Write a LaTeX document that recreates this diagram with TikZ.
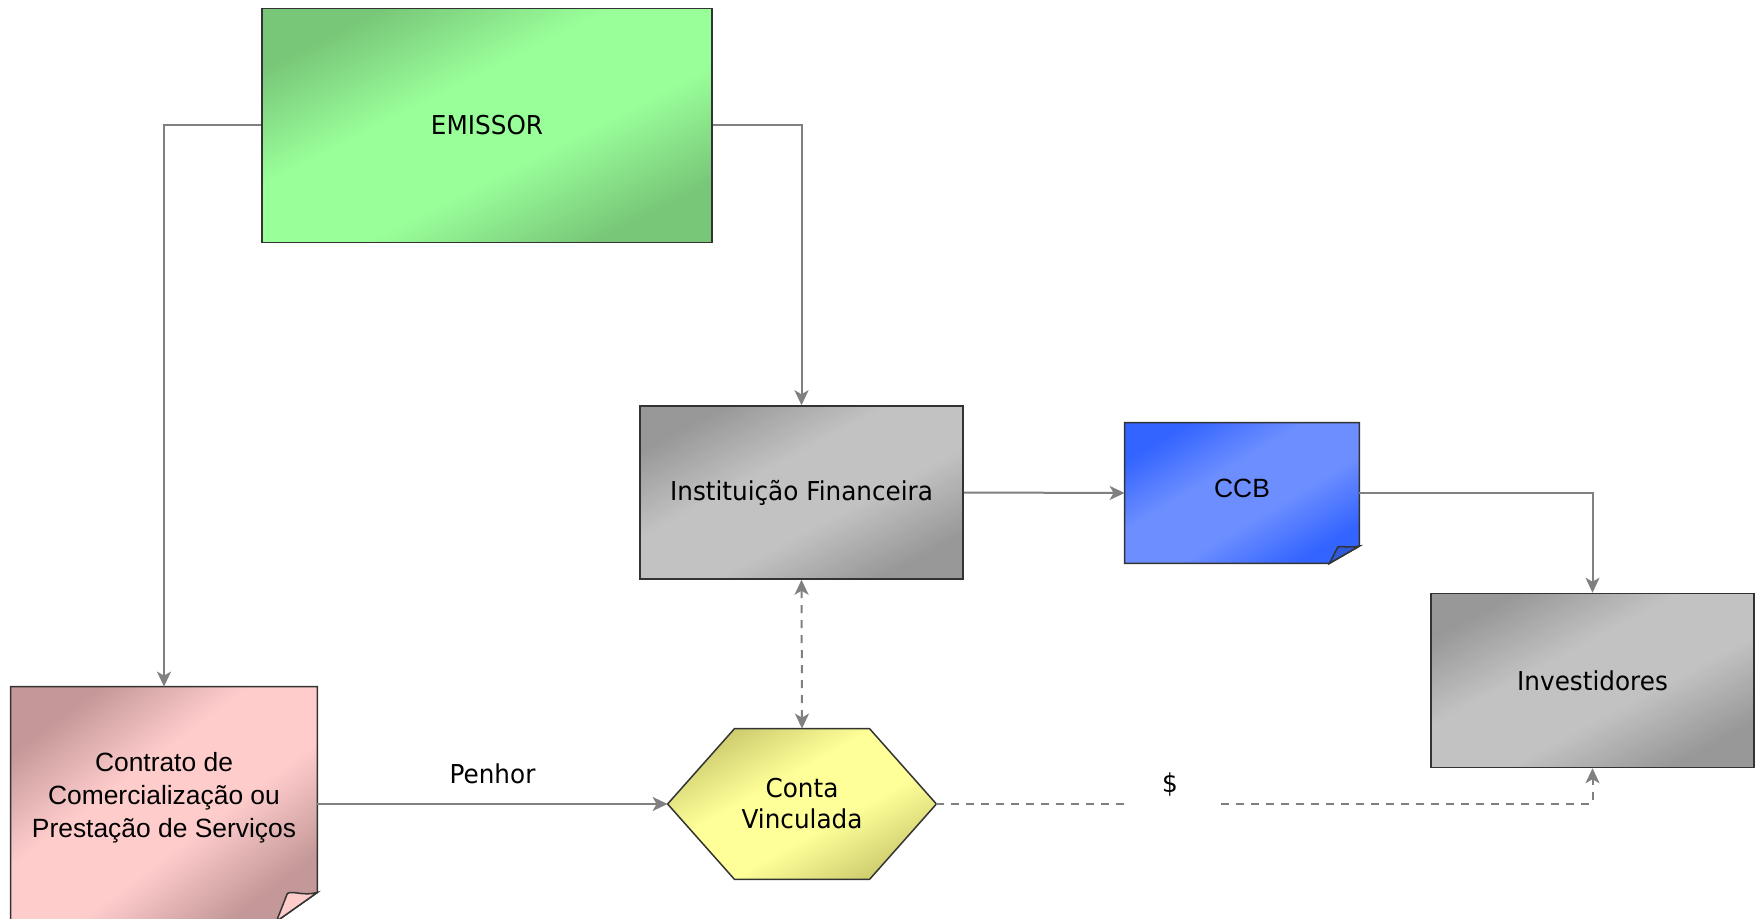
\documentclass[tikz,border=0pt]{standalone}
\usepackage{fontspec}
\setmainfont{Liberation Sans}
\newfontfamily\tahoma{DejaVu Sans}[FakeStretch=0.95]
\usetikzlibrary{arrows.meta}
\usetikzlibrary{backgrounds}

\definecolor{greendk}{RGB}{120,198,120}
\definecolor{greenlt}{RGB}{153,255,153}
\definecolor{graydk}{RGB}{152,152,152}
\definecolor{graylt}{RGB}{194,194,194}
\definecolor{bluedk}{RGB}{51,100,255}
\definecolor{bluelt}{RGB}{108,142,255}
\definecolor{bluecurl}{RGB}{46,90,215}
\definecolor{pinkdk}{RGB}{196,152,152}
\definecolor{pinklt}{RGB}{255,204,204}
\definecolor{yellowdk}{RGB}{206,206,112}
\definecolor{yellowlt}{RGB}{255,255,153}
\definecolor{linegray}{RGB}{128,128,128}
\colorlet{sheetdk}{graydk}
\colorlet{sheetlt}{graylt}

\pgfdeclareverticalshading[sheetdk,sheetlt]{sheet}{100bp}{color(0bp)=(sheetdk); color(25bp)=(sheetdk);
      color(42bp)=(sheetlt); color(58bp)=(sheetlt); color(75bp)=(sheetdk); color(100bp)=(sheetdk)}

\tikzset{
      txt/.style={font=\tahoma\fontsize{13}{15.5}\selectfont, align=center, text=black},
      arialtxt/.style={font=\fontsize{13.2}{16.5}\selectfont, align=center, text=black},
      outline/.style={draw=black!80, line width=0.75pt},
      box/.style={outline, inner sep=0pt},
      sheet/.style 2 args={/utils/exec={\colorlet{sheetdk}{#1}\colorlet{sheetlt}{#2}}, shade, shading=sheet},
      greenfill/.style={sheet={greendk}{greenlt}, shading angle=27},
      grayfill/.style={sheet={graydk}{graylt}, shading angle=28},
      bluefill/.style={sheet={bluedk}{bluelt}, shading angle=31},
      pinkfill/.style={sheet={pinkdk}{pinklt}, shading angle=37},
      yellowfill/.style={sheet={yellowdk}{yellowlt}, shading angle=29},
      flow/.style={draw=linegray, line width=1pt, ->},
      dflow/.style={flow, dash pattern=on 4pt off 3.5pt},
      gapmask/.style={fill=white, inner sep=0pt, minimum width=45pt, minimum height=5pt},
}

\begin{document}
\begin{tikzpicture}[x=0.5pt, y=-0.5pt, >={Stealth[length=7.5pt, width=7pt, inset=2pt]}]
        \useasboundingbox (0,0) rectangle (1760,919);

        % Boxes
        \node[box, greenfill, txt, minimum width=225pt, minimum height=117pt] (emissor) at (487,125.5) {EMISSOR};
        \node[box, grayfill, txt, minimum width=161.5pt, minimum height=86.5pt] (inst) at (801.5,492.5) {Instituição Financeira};
        \node[box, grayfill, txt, minimum width=161.5pt, minimum height=87pt] (invest) at (1592.5,680.5) {Investidores};
        \node[inner sep=0pt, minimum width=117pt, minimum height=70pt,
              label={[arialtxt, yshift=2.5pt]center:CCB}] (ccb) at (1242,493) {};
        \node[inner sep=0pt, minimum width=153pt, minimum height=117pt,
              label={[arialtxt, yshift=3pt]center:{Contrato de\\Comercialização ou\\Prestação de Serviços}}] (contrato) at (164,804) {};
        \node[txt, inner sep=0pt, minimum width=134pt, minimum height=75pt] (conta) at (802,804) {Conta\\Vinculada};

        % Folded sheets and hexagon
        \begin{scope}[on background layer]
        \shadedraw[outline, bluefill] (ccb.north west) -- (ccb.north east) -- ([yshift=8.65pt]ccb.south east)
              -- ([xshift=-15pt]ccb.south east) -- (ccb.south west) -- cycle;
        \filldraw[outline, fill=bluecurl] ([xshift=-15pt]ccb.south east) -- ([xshift=-10.8pt, yshift=8.2pt]ccb.south east)
              .. controls ([xshift=-9pt, yshift=9pt]ccb.south east) and ([xshift=-6pt, yshift=7.5pt]ccb.south east) .. ([yshift=8.65pt]ccb.south east) -- cycle;

        \shadedraw[outline, pinkfill] (contrato.north west) -- (contrato.north east) -- ([yshift=14.5pt]contrato.south east)
              -- ([xshift=-20.5pt]contrato.south east) -- (contrato.south west) -- cycle;
        \filldraw[outline, fill=pinklt] ([xshift=-20.5pt]contrato.south east) -- ([xshift=-15pt, yshift=14pt]contrato.south east)
              .. controls ([xshift=-12pt, yshift=15.5pt]contrato.south east) and ([xshift=-7pt, yshift=12.5pt]contrato.south east) .. ([yshift=14.5pt]contrato.south east) -- cycle;

        \shadedraw[outline, yellowfill] (conta.west) -- ([xshift=-33.75pt]conta.north) -- ([xshift=33.75pt]conta.north)
              -- (conta.east) -- ([xshift=33.75pt]conta.south) -- ([xshift=-33.75pt]conta.south) -- cycle;
        \end{scope}

        % Connectors
        \draw[flow] (emissor.west) -| (contrato.north);
        \draw[flow] (emissor.east) -| (inst.north);
        \draw[flow] (inst.east) -- (ccb.west);
        \draw[flow] (ccb.east) -| (invest.north);
        \draw[flow] (contrato.east) -- (conta.west) node[midway, txt, yshift=15pt] {Penhor};
        \draw[dflow, <->] (inst.south) -- (conta.north);
        \draw[dflow] (conta.east) -| (invest.south)
              node[pos=0.178, gapmask] {} node[pos=0.178, txt, yshift=9.5pt] {\$};

    \end{tikzpicture}
\end{document}
